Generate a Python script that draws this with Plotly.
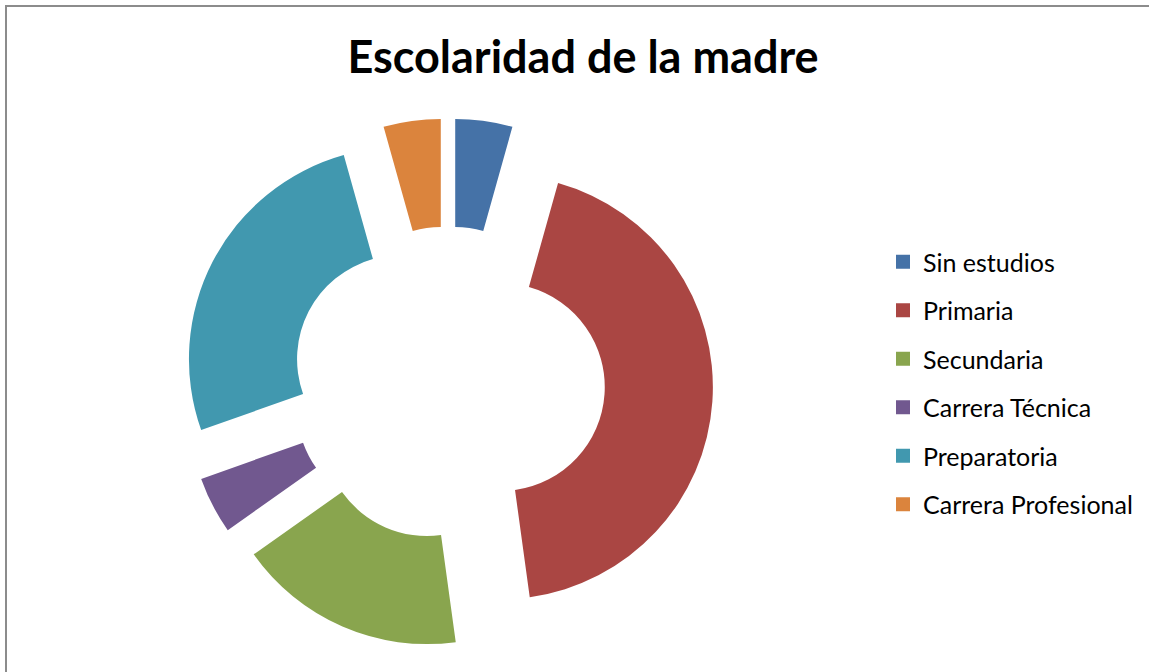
import plotly.graph_objects as go

categorias = ["Sin estudios", "Primaria", "Secundaria", "Carrera Técnica",
              "Preparatoria", "Carrera Profesional"]
madres = [1, 10, 4, 1, 6, 1]
colores = ["#4572A7", "#AA4643", "#89A54E", "#71588F", "#4198AF", "#DB843D"]

W, H = 1149, 672

fig = go.Figure()

fig.add_trace(go.Pie(
    labels=categorias, values=madres, sort=False, direction="clockwise",
    rotation=0, hole=0.49, pull=[0.25] * len(madres),
    marker=dict(colors=colores, line=dict(width=0)),
    textinfo="none", showlegend=False,
    domain=dict(x=[183 / W, 713 / W], y=[(H - 648.5) / H, (H - 118.5) / H]),
))

# legend entries (one group per category so the rows can be spaced out)
for nombre, color in zip(categorias, colores):
    fig.add_trace(go.Scatter(
        x=[None], y=[None], mode="markers", name=nombre, legendgroup=nombre,
        marker=dict(symbol="square", size=14, color=color),
    ))

fig.update_layout(
    width=W, height=H,
    margin=dict(l=0, r=0, t=0, b=0),
    paper_bgcolor="white", plot_bgcolor="white",
    title=dict(text="<b>Escolaridad de la madre</b>", x=583 / W, xanchor="center",
               y=(H - 57) / H, yanchor="middle",
               font=dict(family="Lato", size=45, color="black")),
    xaxis=dict(visible=False), yaxis=dict(visible=False),
    legend=dict(x=883 / W, xanchor="left", y=(H - 383) / H, yanchor="middle",
                font=dict(family="Lato", size=25, color="black"),
                tracegroupgap=13, itemwidth=30, bgcolor="rgba(0,0,0,0)"),
    shapes=[dict(type="rect", xref="paper", yref="paper",
                 x0=6 / W, x1=1.02, y0=-0.02, y1=(H - 6) / H,
                 line=dict(color="#8c8c8c", width=2))],
)

fig.write_html("out.html", config={"displayModeBar": False},
               post_script="document.body.style.margin='0';")
